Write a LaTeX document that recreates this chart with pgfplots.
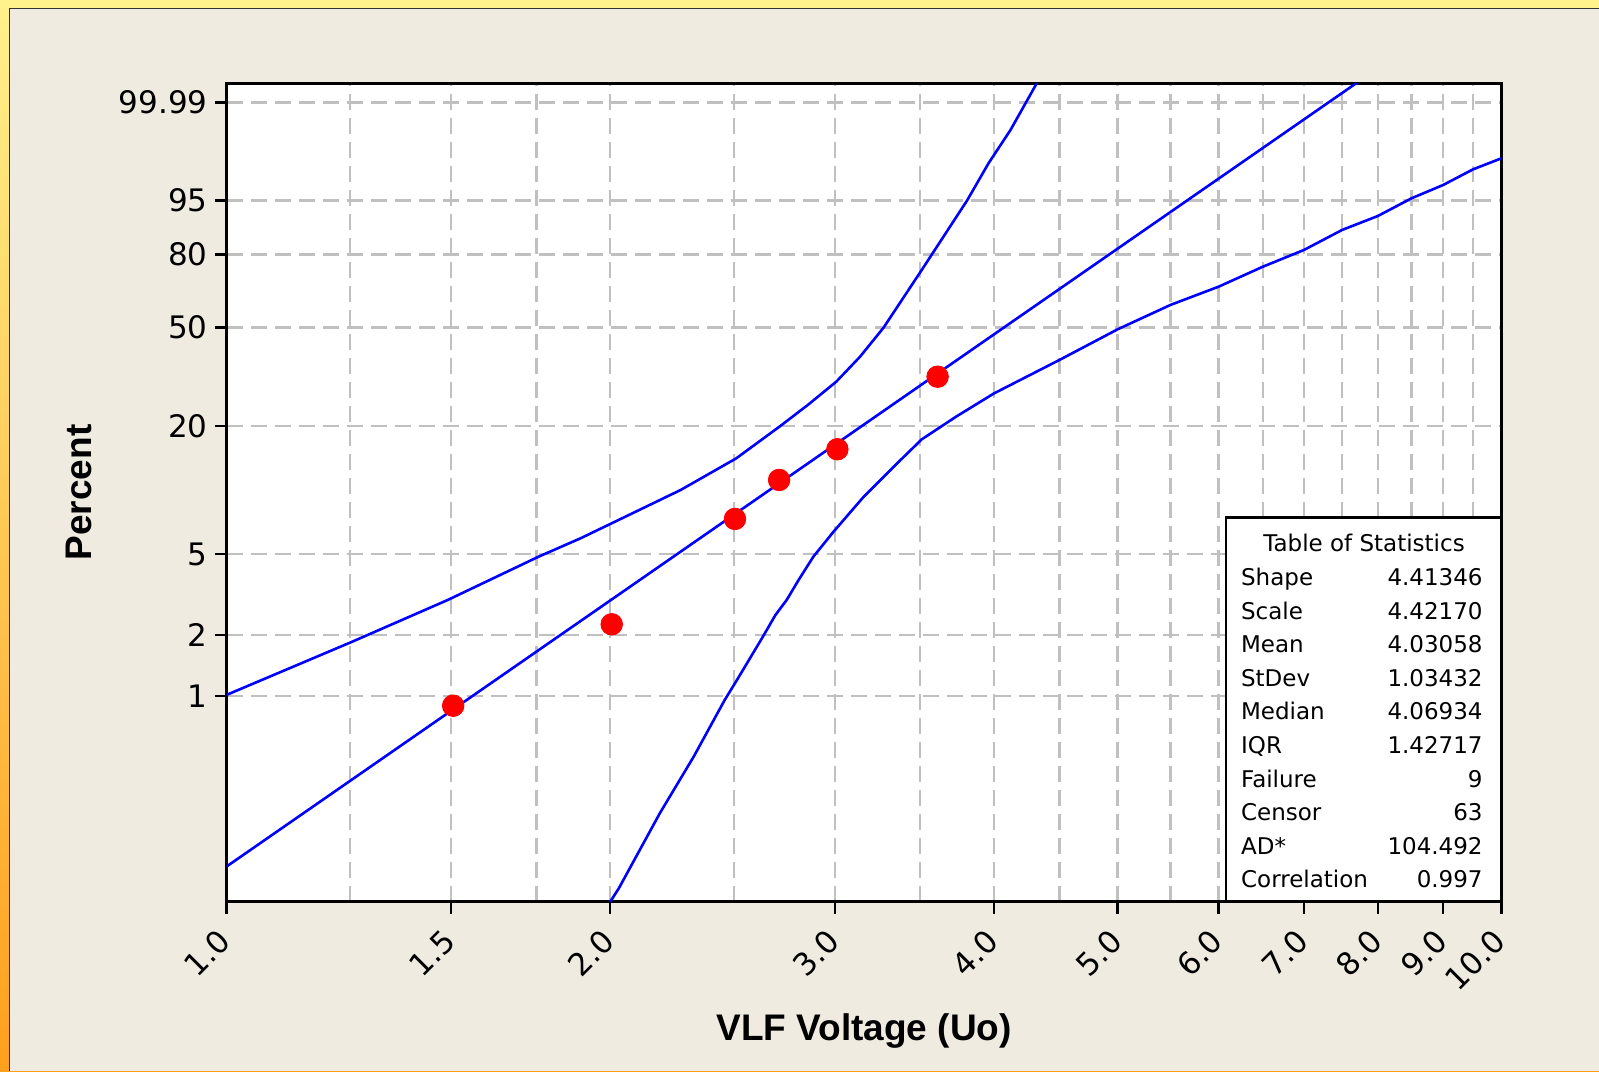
\documentclass[border=0pt]{standalone}
\usepackage{pgfplots}
\pgfplotsset{compat=1.18}
\usepackage{fontspec}
\setmainfont{DejaVu Sans}
\newfontfamily\labfont{Liberation Sans}
\definecolor{bgbeige}{HTML}{EFEBE1}
\definecolor{stripY}{HTML}{FFF18C}
\definecolor{stripO}{HTML}{FF9F1E}
\definecolor{gridgray}{HTML}{C0C0C0}
\definecolor{panelline}{HTML}{333333}
\begin{document}
\begin{tikzpicture}
\useasboundingbox (0,0) rectangle (799.5pt,535.5pt);
\shade[top color=stripY, bottom color=stripO] (0,0) rectangle (799.5pt,535.5pt);
\fill[bgbeige] (4.75pt,0) rectangle (799.5pt,531.25pt);
\draw[panelline, line width=0.7pt] (4.75pt,0) -- (4.75pt,531.25pt) -- (799.5pt,531.25pt);
\begin{axis}[
  at={(113.25pt,84.65pt)}, anchor=south west,
  scale only axis, width=637.5pt, height=409.2pt,
  xmode=log, xmin=1, xmax=10,
  ymin=-6.965, ymax=2.443,
  axis background/.style={fill=white},
  axis line style={line width=1.4pt, black},
  tick pos=left, tick align=outside,
  major tick length=6pt, minor tick length=0pt,
  tick style={line width=1.2pt, black},
  xtick={1,1.5,2,3,4,5,6,7,8,9,10},
  xticklabels={1.0,1.5,2.0,3.0,4.0,5.0,6.0,7.0,8.0,9.0,10.0},
  minor xtick={1.25,1.75,2.5,3.5,4.5,5.5,6.5,7.5,8.5,9.5},
  ytick={-4.6002,-3.9019,-2.9702,-1.4999,-0.3665,0.4759,1.0972,2.2203},
  yticklabels={1,2,5,20,50,80,95,99.99},
  xmajorgrids, xminorgrids, ymajorgrids,
  major grid style={gridgray, line width=1.2pt, dash pattern=on 8pt off 4pt},
  minor grid style={gridgray, line width=1.2pt, dash pattern=on 8pt off 4pt},
  xticklabel shift=10pt,
  xticklabel style={rotate=45, anchor=east, inner sep=1pt, font=\fontsize{15.5pt}{18pt}\selectfont},
  yticklabel style={font=\fontsize{15.5pt}{18pt}\selectfont},
  xlabel={VLF Voltage (Uo)}, ylabel={Percent},
  xlabel style={at={(axis description cs:0.5,-0.158)}, anchor=center, font=\labfont\bfseries\fontsize{18.5pt}{22pt}\selectfont},
  ylabel style={at={(axis description cs:-0.1161,0.5)}, anchor=center, font=\labfont\bfseries\fontsize{18.5pt}{22pt}\selectfont},
]
\addplot[blue, line width=1.3pt] coordinates {(1,-6.561) (10,3.602)};
\addplot[blue, line width=1.3pt] coordinates {
(1.0,-4.588) (1.255,-3.976) (1.491,-3.497) (1.757,-2.999) (1.896,-2.787) (2.005,-2.615)
(2.271,-2.232) (2.511,-1.868) (2.717,-1.500) (2.86,-1.25) (3.008,-0.987) (3.14,-0.70)
(3.276,-0.3665) (3.51,0.297) (3.81,1.097) (3.96,1.523) (4.12,1.906) (4.32,2.443) (4.35,2.52)};
\addplot[blue, line width=1.3pt] coordinates {
(1.99,-7.05) (2.0,-6.965) (2.031,-6.811) (2.187,-5.949) (2.325,-5.298) (2.459,-4.646) (2.514,-4.416)
(2.63,-3.937) (2.695,-3.669) (2.75,-3.497) (2.81,-3.267) (2.886,-2.999) (2.993,-2.712)
(3.161,-2.309) (3.358,-1.925) (3.51,-1.650) (3.735,-1.389) (4.0,-1.121) (4.5,-0.738)
(5.0,-0.385) (5.5,-0.105) (6.0,0.105) (6.5,0.335) (7.0,0.527) (7.5,0.757) (8.0,0.918)
(8.5,1.121) (9.0,1.274) (9.5,1.454) (10.0,1.581)};
\addplot[only marks, mark=*, mark size=5.4pt, color=red, mark options={fill=red, draw=red}] coordinates {
(1.506,-4.712) (2.005,-3.776) (2.505,-2.565) (2.713,-2.117) (3.014,-1.764) (3.612,-0.930)};
\end{axis}
\draw[fill=white, line width=1.4pt] (613pt,84.65pt) rectangle (750.75pt,276.75pt);
\begin{scope}[every node/.style={font=\fontsize{11.5pt}{13pt}\selectfont, inner sep=0pt}]
\node[anchor=base] at (682pt,259.65pt) {Table of Statistics};
\foreach \lab/\val [count=\i from 0] in {Shape/4.41346, Scale/4.42170, Mean/4.03058, StDev/1.03432, Median/4.06934, IQR/1.42717, Failure/9, Censor/63, AD*/104.492, Correlation/0.997}{
  \node[anchor=base west] at (620.35pt,{242.6pt-\i*16.77pt}) {\lab};
  \node[anchor=base east] at (741.5pt,{242.6pt-\i*16.77pt}) {\val};
}
\end{scope}
\end{tikzpicture}
\end{document}
